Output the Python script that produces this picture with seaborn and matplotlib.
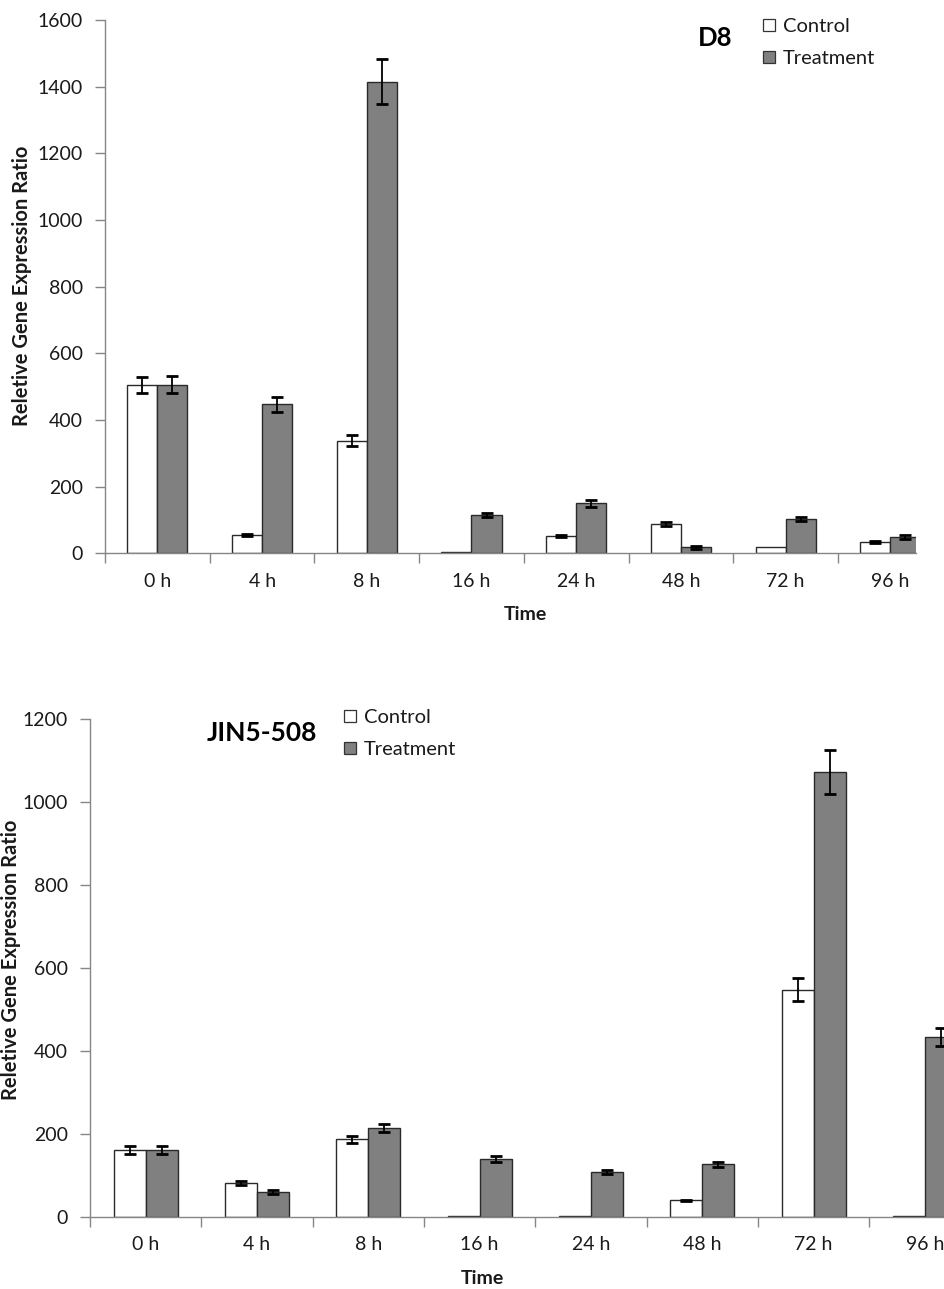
import numpy as np
import pandas as pd
import matplotlib
matplotlib.use("Agg")
import matplotlib.pyplot as plt
from matplotlib.lines import Line2D
import seaborn as sns

# Sampling times and groups
times = ["0 h", "4 h", "8 h", "16 h", "24 h", "48 h", "72 h", "96 h"]
groups = ["Control", "Treatment"]

# D8 line: mean expression ratio and error
d8_control = [506, 55, 338, 3, 52, 88, 18, 33]
d8_control_err = [24, 4, 17, 0, 4, 5, 0, 3]
d8_treatment = [506, 447, 1415, 115, 150, 18, 104, 49]
d8_treatment_err = [25, 23, 68, 7, 10, 4, 6, 5]

# JIN5-508 line: mean expression ratio and error
jin_control = [161, 82, 187, 2, 2, 40, 548, 2]
jin_control_err = [9, 4, 9, 0, 0, 2, 27, 0]
jin_treatment = [161, 60, 215, 139, 108, 127, 1073, 434]
jin_treatment_err = [9, 4, 10, 7, 5, 6, 53, 22]

sns.set_style("ticks")
plt.rcParams["font.family"] = ["Lato", "DejaVu Sans"]

AXIS_GREY = "#868686"
TEXT = "#1a1a1a"
W, H = 945, 1289

fig = plt.figure(figsize=(W / 100, H / 100), dpi=100)


def fig_rect(x0, x1, ytop, ybot):
    return [x0 / W, 1 - ybot / H, (x1 - x0) / W, (ybot - ytop) / H]


def draw_panel(ax, control, control_err, treatment, treatment_err,
               ymax, xmax):
    df = pd.DataFrame({
        "Time": times * 2,
        "Group": [g for g in groups for _ in times],
        "Value": control + treatment,
    })
    sns.barplot(data=df, x="Time", y="Value", hue="Group",
                order=times, hue_order=groups,
                palette={"Control": "white", "Treatment": "#808080"},
                width=0.575, gap=0, edgecolor="#2a2a2a", linewidth=1.0,
                errorbar=None, legend=False, ax=ax, zorder=2)
    for cont, err in zip(ax.containers, [control_err, treatment_err]):
        xs, hs, es = [], [], []
        for p, e in zip(cont.patches, err):
            if e > 0:
                xs.append(p.get_x() + p.get_width() / 2)
                hs.append(p.get_height())
                es.append(e)
        ax.errorbar(xs, hs, yerr=es, fmt="none", ecolor="black",
                    elinewidth=1.3, capsize=4, capthick=2, zorder=3)

    ax.set_yticks(np.arange(0, ymax + 1, 200))
    ax.set_xticks(range(len(times)))
    ax.set_xticklabels(times)
    ax.set_xticks(np.arange(-0.5, len(times) + 0.5, 1), minor=True)
    # limits go last so the tick setters cannot widen them
    ax.set_ylim(0, ymax)
    ax.set_xlim(-0.5, xmax)
    ax.tick_params(axis="x", which="major", length=0, pad=14,
                   labelsize=14, labelcolor=TEXT)
    ax.tick_params(axis="x", which="minor", length=7, width=1,
                   color=AXIS_GREY, direction="out")
    ax.tick_params(axis="y", length=7, width=1, color=AXIS_GREY,
                   direction="out", pad=9, labelsize=14, labelcolor=TEXT)
    ax.set_xlabel("")
    ax.set_ylabel("")
    sns.despine(ax=ax)
    for side in ("left", "bottom"):
        ax.spines[side].set_color(AXIS_GREY)
        ax.spines[side].set_linewidth(1)


def add_legend(ax, x, y):
    handles = [
        Line2D([], [], linestyle="none", marker="s", markersize=8.5,
               markerfacecolor="white", markeredgecolor="#333333",
               markeredgewidth=0.9),
        Line2D([], [], linestyle="none", marker="s", markersize=8.5,
               markerfacecolor="#808080", markeredgecolor="#333333",
               markeredgewidth=0.9),
    ]
    ax.legend(handles, groups, loc="upper left",
              bbox_to_anchor=(x / W, 1 - y / H),
              bbox_transform=fig.transFigure, frameon=False,
              handlelength=0.7, handletextpad=0.35, labelspacing=0.75,
              borderpad=0, borderaxespad=0, fontsize=14.5,
              labelcolor=TEXT)


# Top panel: D8
ax1 = fig.add_axes(fig_rect(105, 916, 20, 553.5))
draw_panel(ax1, d8_control, d8_control_err, d8_treatment, d8_treatment_err,
           1600, 7.245)
ax1.text(715 / W, 1 - 38 / H, "D8", transform=fig.transFigure,
         ha="center", va="center", fontsize=18.5, fontweight="bold",
         color="black")
add_legend(ax1, 762, 18)
fig.text(22 / W, 1 - 286 / H, "Reletive Gene Expression Ratio",
         rotation=90, ha="center", va="center", fontsize=14.5,
         fontweight="bold", color=TEXT)
fig.text(525 / W, 1 - 614 / H, "Time", ha="center", va="center",
         fontsize=14, fontweight="bold", color=TEXT)

# Bottom panel: JIN5-508
ax2 = fig.add_axes(fig_rect(90, 945, 719, 1217))
draw_panel(ax2, jin_control, jin_control_err, jin_treatment,
           jin_treatment_err, 1200, 7.18)
ax2.text(262 / W, 1 - 733 / H, "JIN5-508", transform=fig.transFigure,
         ha="center", va="center", fontsize=19, fontweight="bold",
         color="black")
add_legend(ax2, 343, 709)
fig.text(11 / W, 1 - 960 / H, "Reletive Gene Expression Ratio",
         rotation=90, ha="center", va="center", fontsize=14.5,
         fontweight="bold", color=TEXT)
fig.text(482 / W, 1 - 1278 / H, "Time", ha="center", va="center",
         fontsize=14, fontweight="bold", color=TEXT)

fig.savefig("out.png", dpi=100, facecolor="white")
